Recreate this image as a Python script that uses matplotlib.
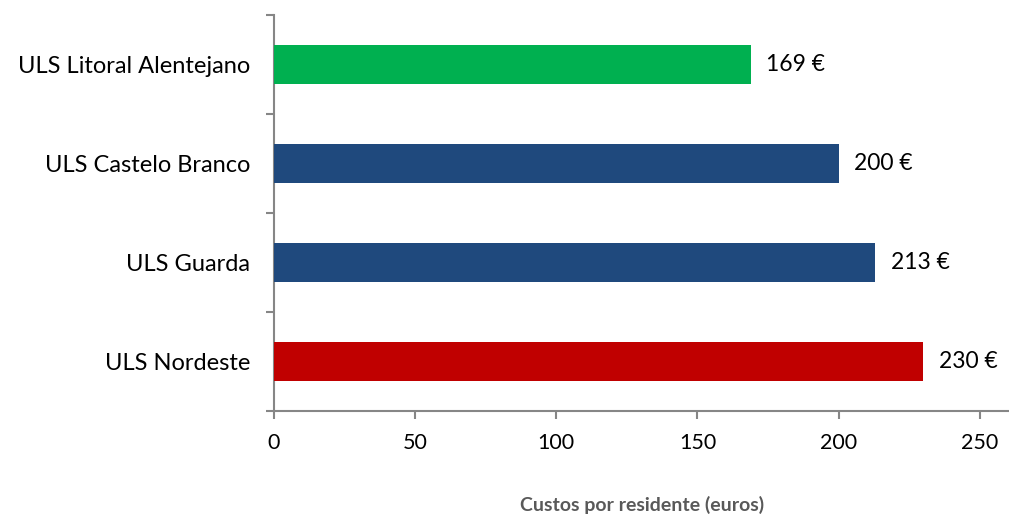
import numpy as np
import matplotlib
matplotlib.use("Agg")
import matplotlib.pyplot as plt
from matplotlib.ticker import FixedLocator, NullFormatter

# dados (de baixo para cima)
categorias = ["ULS Nordeste", "ULS Guarda", "ULS Castelo Branco", "ULS Litoral Alentejano"]
custos = [230, 213, 200, 169]
cores = ["#C00000", "#1F497D", "#1F497D", "#00B050"]
x_ticks = [0, 50, 100, 150, 200, 250]

C_AXIS = "#868686"
C_INK = "#000000"
C_LABEL = "#595959"

plt.rcParams["font.family"] = ["Lato", "DejaVu Sans"]

fig = plt.figure(figsize=(10.09, 5.15), dpi=100)
ax = fig.add_axes([274 / 1009, 1 - 411 / 515, (1008 - 274) / 1009, (411 - 15) / 515])

y = np.arange(len(categorias))
ax.barh(y, custos, height=0.4, color=cores, zorder=3)

for yi, v in zip(y, custos):
    ax.annotate(f"{v} €", xy=(v, yi), xytext=(11, 0), textcoords="offset points",
                ha="left", va="center", fontsize=16.5, color=C_INK)

ax.set_xlim(0, 260)
ax.set_ylim(-0.5, len(categorias) - 0.5)

ax.set_yticks(y)
ax.set_yticklabels(categorias, fontsize=17, color=C_INK)
ax.yaxis.set_minor_locator(FixedLocator(np.arange(-0.5, len(categorias), 1.0)))
ax.yaxis.set_minor_formatter(NullFormatter())
ax.tick_params(axis="y", which="major", length=0, pad=17)
ax.tick_params(axis="y", which="minor", length=6, width=1.5, color=C_AXIS, direction="out")

ax.set_xticks(x_ticks)
ax.tick_params(axis="x", which="major", length=6, width=1.5, color=C_AXIS,
               direction="out", labelsize=15.5, labelcolor=C_INK, pad=10)

for side in ("top", "right"):
    ax.spines[side].set_visible(False)
for side in ("left", "bottom"):
    ax.spines[side].set_color(C_AXIS)
    ax.spines[side].set_linewidth(1.5)

fig.text(642 / 1009, 1 - 505 / 515, "Custos por residente (euros)", ha="center",
         va="center", fontsize=14, fontweight="bold", color=C_LABEL)

fig.savefig("out.png", dpi=100, facecolor="white")
